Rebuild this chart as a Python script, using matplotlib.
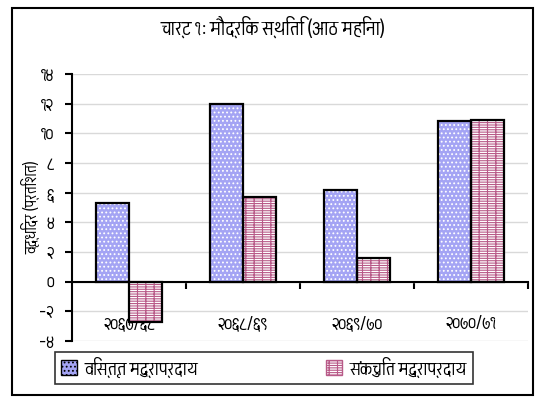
import matplotlib
matplotlib.use("Agg")
import matplotlib.pyplot as plt
from matplotlib import font_manager
from matplotlib.ft2font import FT2Font
from matplotlib.patches import Patch

# देवनागरी अक्षर भएको फन्ट खोज्ने
deva = []
for f in font_manager.fontManager.ttflist:
    try:
        if FT2Font(f.fname).get_char_index(0x0915):
            deva.append(f.name)
    except Exception:
        pass
deva = sorted(set(deva))
plt.rcParams["font.family"] = deva + ["DejaVu Sans"]
plt.rcParams["hatch.linewidth"] = 0.8

years = ["२०६७/६८", "२०६८/६९", "२०६९/७०", "२०७०/७१"]
broad_money = [5.3, 12.0, 6.2, 10.8]
narrow_money = [-2.7, 5.7, 1.6, 10.9]
yticks = [14, 12, 10, 8, 6, 4, 2, 0, -2, -4]
ytick_labels = ["१४", "१२", "१०", "८", "६", "४", "२", "०", "-२", "-४"]

blue = "#a4a4f4"
pink = "#b85a88"

fig = plt.figure(figsize=(5.45, 4.03), dpi=100)
ax = fig.add_axes([72 / 545, 1 - 341 / 403, 456 / 545, 267 / 403])

x = range(len(years))
w = 0.29
xb = [i - w / 2 for i in x]
xn = [i + w / 2 for i in x]

ax.bar(xb, broad_money, w, color=blue, hatch="....", edgecolor="white", linewidth=0, zorder=2)
ax.bar(xb, broad_money, w, fill=False, edgecolor="black", linewidth=1.6, zorder=3)
ax.bar(xn, narrow_money, w, color="white", hatch="-----++", edgecolor=pink, linewidth=0, zorder=2)
ax.bar(xn, narrow_money, w, fill=False, edgecolor="black", linewidth=1.6, zorder=3)

ax.set_xlim(-0.5, 3.5)
ax.set_ylim(-4, 14)
ax.set_yticks(yticks)
ax.set_yticklabels(ytick_labels, fontsize=14)
ax.yaxis.grid(True, color="#d9d9d9", linewidth=1)
ax.set_axisbelow(True)

for s in ["top", "right"]:
    ax.spines[s].set_visible(False)
ax.spines["bottom"].set_position(("data", 0))
ax.spines["bottom"].set_linewidth(1.5)
ax.spines["left"].set_linewidth(1.5)
ax.tick_params(axis="y", length=5, width=1.5, direction="out", pad=8)

ax.set_xticks([0.5, 1.5, 2.5, 3.5], minor=True)
ax.tick_params(axis="x", which="minor", length=5, width=1.5, direction="out")
ax.set_xticks(list(x))
ax.set_xticklabels(years, fontsize=14)
ax.tick_params(axis="x", which="major", length=0, pad=24)

ax.set_ylabel("वृद्धिदर (प्रतिशत)", fontsize=12, labelpad=0)

fig.text(0.5, 1 - 27 / 403, "चार्ट १: मौद्रिक स्थिति (आठ महिना)", ha="center", va="center",
         fontsize=15, fontweight="bold")

handles = [Patch(facecolor=blue, hatch="....", edgecolor="black"),
           Patch(facecolor="white", hatch="-----++", edgecolor=pink)]
leg = fig.legend(handles, ["विस्तृत मुद्राप्रदाय", "संकुचित मुद्राप्रदाय"], loc="center",
                 bbox_to_anchor=(264 / 545, 1 - 368 / 403), ncol=2, fontsize=14,
                 frameon=True, fancybox=False, edgecolor="black", columnspacing=6.6,
                 handlelength=0.8, handleheight=0.8, handletextpad=0.4,
                 borderpad=0.3, borderaxespad=0)
leg.get_frame().set_linewidth(1.2)

fig.patches.append(plt.Rectangle((12 / 545, 1 - 395 / 403), 521 / 545, 387 / 403,
                                 transform=fig.transFigure, fill=False,
                                 edgecolor="black", linewidth=1.5))

fig.savefig("out.png", dpi=100)
